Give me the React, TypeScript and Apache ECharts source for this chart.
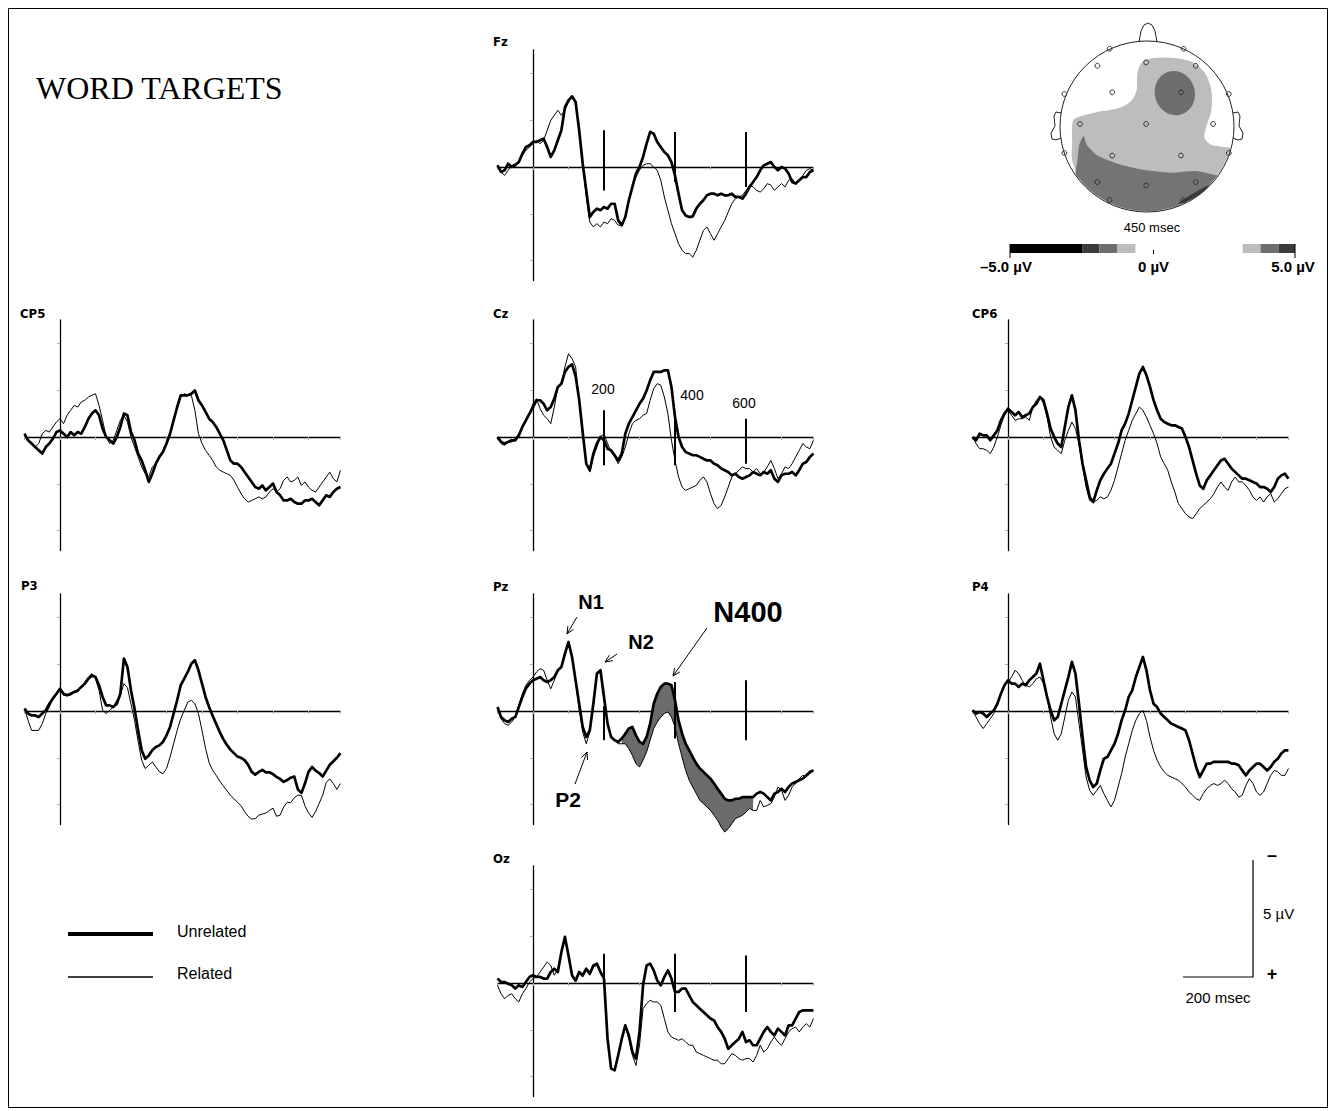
import React, { useEffect, useRef } from "react";
import * as echarts from "echarts";

// ---------------- DATA (µV, negative plotted up; samples every 10 ms from -100 ms) ----------------
const T_START = -100;
const T_STEP = 10;

const FZ_UNRELATED = [
  -0.07, 0.21, 0.14, -0.14, 0, -0.07, -0.21, -0.57, -0.85, -0.93,
  -1.07, -1.07, -1.14, -1.21, -0.85, -0.43, -0.71, -1.14, -1.57, -2.56,
  -2.85, -3.02, -2.78, -1.57, -0.14, 1.0, 2.14, 1.92, 1.78, 1.85,
  1.71, 1.78, 1.57, 1.57, 2.28, 2.49, 2.14, 1.42, 0.85, 0.28,
  0, -0.43, -1.0, -1.5, -1.42, -1.07, -0.85, -0.64, -0.5, -0.21,
  0.36, 1.14, 1.85, 2.07, 2.14, 2.11, 1.78, 1.57, 1.42, 1.21,
  1.14, 1.14, 1.21, 1.14, 1.21, 1.21, 1.14, 1.28, 1.28, 1.35,
  1.14, 0.85, 0.64, 0.43, 0.14, -0.07, -0.14, -0.21, 0, 0.14,
  0, 0.07, 0.28, 0.64, 0.71, 0.57, 0.43, 0.43, 0.21, 0.14,
];
const FZ_RELATED = [
  -0.07, 0.21, 0.36, 0.14, -0.07, -0.14, -0.21, -0.5, -0.71, -0.85,
  -1.0, -1.14, -1.0, -1.14, -1.57, -1.99, -2.21, -2.42, -2.21, -2.42,
  -2.78, -2.99, -2.78, -1.57, -0.14, 1.28, 2.35, 2.56, 2.42, 2.56,
  2.35, 2.42, 2.21, 2.28, 2.49, 2.49, 2.14, 1.42, 0.85, 0.43,
  0.14, -0.07, -0.14, -0.14, 0, 0.14, 0.57, 1.28, 1.85, 2.42,
  2.85, 3.28, 3.56, 3.7, 3.7, 3.85, 3.56, 3.13, 2.71, 2.56,
  2.85, 3.13, 2.85, 2.56, 2.28, 1.92, 1.57, 1.35, 1.28, 1.21,
  1.0, 0.78, 0.85, 1.0, 1.07, 0.93, 0.71, 0.78, 1.0, 0.85,
  0.71, 0.85, 0.57, 0.5, 0.71, 0.57, 0.36, 0.14, 0.07, 0.14,
];

const CP5_UNRELATED = [
  -0.14, 0.14, 0.28, 0.43, 0.57, 0.71, 0.43, 0.28, 0.07, -0.21,
  -0.28, -0.14, 0, -0.21, -0.07, -0.21, -0.14, -0.43, -0.78, -1.0,
  -1.14, -0.93, -0.36, 0, 0.14, 0.28, 0, -0.43, -1.0, -0.93,
  -0.21, 0.14, 0.71, 1.0, 1.42, 1.92, 1.57, 1.14, 0.85, 0.64,
  0.28, -0.14, -0.71, -1.28, -1.78, -1.78, -1.78, -1.85, -1.99, -1.57,
  -1.35, -1.07, -0.78, -0.64, -0.43, -0.14, 0.14, 0.57, 1.0, 1.14,
  1.14, 1.28, 1.5, 1.71, 1.92, 2.14, 2.21, 2.07, 2.28, 2.14,
  1.99, 2.35, 2.49, 2.71, 2.71, 2.64, 2.78, 2.85, 2.85, 2.71,
  2.71, 2.64, 2.78, 2.92, 2.71, 2.49, 2.56, 2.35, 2.21, 2.14,
];
const CP5_RELATED = [
  -0.14, 0.14, 0.28, 0.43, 0.28, -0.14, -0.28, -0.21, -0.43, -0.64,
  -0.78, -0.57, -0.93, -1.14, -1.35, -1.28, -1.5, -1.57, -1.71, -1.78,
  -1.85, -1.35, -0.71, 0, 0.28, 0.14, -0.28, -0.71, -0.93, -0.64,
  0, 0.43, 0.85, 1.28, 1.57, 1.71, 1.28, 1.14, 0.85, 0.57,
  0.28, -0.14, -0.78, -1.28, -1.71, -1.85, -1.78, -1.78, -1.14, -0.14,
  0.28, 0.57, 0.78, 1.0, 1.28, 1.42, 1.5, 1.57, 1.64, 1.85,
  2.14, 2.42, 2.64, 2.78, 2.71, 2.64, 2.56, 2.64, 2.56, 2.35,
  2.21, 2.35, 2.21, 1.85, 1.71, 1.92, 1.85, 1.71, 2.07, 1.92,
  2.14, 2.28, 2.35, 2.14, 1.92, 1.71, 1.5, 1.78, 1.92, 1.42,
];

const CZ_UNRELATED = [
  0, 0.21, 0.28, 0.21, 0.14, 0.14, -0.07, -0.43, -0.71, -1.0,
  -1.28, -1.57, -1.57, -1.42, -1.14, -1.28, -1.64, -2.14, -2.28, -2.78,
  -3.0, -3.1, -2.6, -1.6, -0.2, 1.14, 1.42, 0.71, 0.28, 0,
  0.14, 0.5, 0.57, 0.78, 1.0, 0.71, -0.14, -0.57, -0.85, -1.14,
  -1.42, -1.64, -1.99, -2.42, -2.78, -2.78, -2.78, -2.85, -2.85, -2.14,
  -0.85, 0, 0.43, 0.64, 0.71, 0.78, 0.78, 0.85, 0.93, 1.0,
  1.0, 1.14, 1.21, 1.35, 1.42, 1.5, 1.64, 1.57, 1.71, 1.78,
  1.71, 1.64, 1.5, 1.57, 1.64, 1.5, 1.57, 1.42, 1.78, 1.92,
  1.64, 1.57, 1.57, 1.5, 1.64, 1.42, 1.14, 1.07, 0.85, 0.71,
];
const CZ_RELATED = [
  0, 0.28, 0.36, 0.21, 0.21, 0.07, -0.14, -0.43, -0.71, -1.0,
  -1.42, -1.64, -1.21, -0.93, -0.78, -0.57, -1.28, -2.14, -2.28, -3.0,
  -3.56, -3.35, -3.0, -1.57, -0.2, 1.14, 1.5, 0.85, 0.43, 0,
  -0.14, 0.28, 0.64, 0.85, 1.14, 0.85, 0.43, -0.14, -0.57, -0.71,
  -0.78, -0.93, -1.0, -1.57, -2.07, -2.28, -2.21, -1.71, -1.0, 0.14,
  1.0, 1.71, 2.14, 2.28, 2.21, 2.14, 2.07, 1.85, 1.71, 1.92,
  2.42, 2.85, 3.06, 2.92, 2.56, 2.14, 1.71, 1.57, 1.42, 1.28,
  1.35, 1.35, 1.5, 1.35, 1.57, 1.5, 1.28, 1.0, 1.35, 1.78,
  1.57, 1.28, 1.35, 1.14, 0.85, 0.57, 0.28, 0.43, 0.5, 0.14,
];

const CP6_UNRELATED = [
  0, 0.14, -0.14, -0.07, -0.07, 0.14, -0.07, -0.28, -0.71, -1.0,
  -1.21, -1.07, -0.93, -1.07, -0.85, -0.93, -1.0, -1.28, -1.42, -1.71,
  -1.57, -1.0, -0.36, 0, 0.28, 0.43, -0.43, -1.28, -1.78, -1.14,
  0.14, 1.14, 1.85, 2.56, 2.78, 2.28, 1.85, 1.57, 1.35, 1.14,
  0.71, 0.28, -0.28, -0.57, -1.0, -1.57, -2.14, -2.71, -2.99, -2.64,
  -2.14, -1.57, -1.14, -0.78, -0.64, -0.57, -0.5, -0.5, -0.43, -0.36,
  0, 0.43, 1.0, 1.57, 2.07, 2.21, 1.85, 1.64, 1.42, 1.21,
  1.0, 0.93, 1.14, 1.35, 1.5, 1.64, 1.78, 1.78, 1.85, 1.92,
  1.99, 2.14, 2.14, 2.21, 2.35, 2.14, 1.78, 1.64, 1.57, 1.78,
];
const CP6_RELATED = [
  0, 0.28, 0.5, 0.5, 0.57, 0.71, 0.43, 0, -0.5, -0.93,
  -1.14, -0.93, -0.71, -0.78, -0.78, -0.85, -0.71, -1.28, -1.57, -1.71,
  -1.42, -0.85, 0, 0.43, 0.57, 0.71, 0.14, -0.28, -0.64, -0.36,
  0.28, 1.28, 2.14, 2.71, 2.78, 2.71, 2.56, 2.64, 2.56, 2.28,
  1.85, 1.28, 0.71, 0.14, -0.28, -0.71, -1.0, -1.28, -1.14, -0.85,
  -0.5, -0.14, 0.28, 0.85, 1.14, 1.42, 1.92, 2.35, 2.85, 3.06,
  3.28, 3.42, 3.49, 3.28, 3.06, 2.92, 2.78, 2.64, 2.42, 2.14,
  1.92, 2.14, 2.28, 1.92, 1.71, 1.92, 1.92, 2.07, 2.28, 2.56,
  2.71, 2.56, 2.78, 2.56, 2.42, 2.78, 2.64, 2.42, 2.21, 2.14,
];

const P3_UNRELATED = [
  -0.1, 0.11, 0.19, 0.19, 0.26, 0.11, -0.03, -0.31, -0.53, -0.74,
  -0.95, -0.74, -0.67, -0.74, -0.81, -0.88, -1.03, -1.17, -1.38, -1.52,
  -1.45, -1.1, -0.6, -0.24, -0.24, -0.17, -0.31, -0.74, -2.24, -1.88,
  -0.88, -0.1, 0.83, 1.68, 2.04, 1.9, 1.68, 1.54, 1.47, 1.32,
  1.04, 0.68, 0.11, -0.46, -1.1, -1.38, -1.67, -2.02, -2.17, -1.74,
  -1.17, -0.6, -0.17, 0.2, 0.55, 0.9, 1.2, 1.45, 1.65, 1.8,
  1.95, 2.0, 2.1, 2.3, 2.6, 2.72, 2.6, 2.52, 2.62, 2.62,
  2.7, 2.82, 2.9, 3.03, 2.95, 2.85, 2.8, 3.35, 3.5, 3.1,
  2.6, 2.39, 2.55, 2.65, 2.8, 2.55, 2.3, 2.15, 2.0, 1.8,
];
const P3_RELATED = [
  -0.1, 0.4, 0.83, 0.83, 0.83, 0.54, 0.11, -0.17, -0.53, -0.74,
  -0.95, -0.67, -0.67, -0.67, -0.81, -0.81, -1.03, -1.24, -1.45, -1.6,
  -1.38, -0.88, -0.03, 0.11, -0.03, -0.17, -0.46, -0.67, -1.17, -1.0,
  -0.3, 0.4, 1.3, 2.1, 2.46, 2.32, 2.18, 2.39, 2.6, 2.68,
  2.46, 1.97, 1.4, 0.83, 0.33, -0.03, -0.38, -0.46, -0.31, 0.11,
  0.83, 1.6, 2.2, 2.54, 2.75, 3.0, 3.2, 3.4, 3.6, 3.75,
  3.9, 4.05, 4.3, 4.5, 4.62, 4.6, 4.45, 4.4, 4.36, 4.25,
  4.15, 4.5, 4.45, 4.1, 3.9, 3.92, 3.7, 3.6, 3.6, 4.05,
  4.35, 4.55, 4.3, 3.95, 3.6, 3.05, 2.9, 3.1, 3.35, 3.1,
];

const PZ_UNRELATED = [
  -0.17, 0.26, 0.4, 0.47, 0.33, 0.26, -0.17, -0.6, -0.96, -1.17,
  -1.31, -1.38, -1.45, -1.31, -1.24, -1.31, -1.45, -1.74, -1.88, -2.45,
  -2.95, -2.31, -1.31, -0.31, 0.68, 1.11, 0.83, -0.31, -1.6, -1.74,
  -0.6, 0.54, 1.11, 1.25, 1.32, 1.18, 0.97, 0.75, 0.68, 1.04,
  1.32, 1.4, 1.11, 0.54, -0.31, -0.74, -1.03, -1.17, -1.17, -1.1,
  -0.46, 0.4, 0.97, 1.4, 1.68, 1.97, 2.25, 2.46, 2.6, 2.75,
  2.89, 3.1, 3.32, 3.53, 3.75, 3.82, 3.82, 3.75, 3.75, 3.68,
  3.68, 3.68, 3.68, 3.53, 3.46, 3.53, 3.68, 3.82, 3.53, 3.46,
  3.32, 3.46, 3.25, 3.1, 3.03, 2.96, 2.89, 2.75, 2.6, 2.54,
];
const PZ_RELATED = [
  -0.17, 0.33, 0.54, 0.61, 0.47, 0.26, -0.24, -0.74, -1.1, -1.31,
  -1.45, -1.67, -1.81, -1.74, -1.31, -0.95, -1.31, -1.74, -1.95, -2.45,
  -2.88, -2.3, -1.2, -0.1, 0.9, 1.4, 0.9, -0.2, -1.55, -1.7,
  -0.46, 0.54, 1.11, 1.25, 1.4, 1.4, 1.4, 1.61, 1.9, 2.25,
  2.39, 2.1, 1.75, 1.25, 0.75, 0.47, 0.26, 0.11, 0.04, 0.26,
  0.68, 1.4, 1.97, 2.54, 2.96, 3.25, 3.53, 3.82, 3.96, 4.1,
  4.25, 4.46, 4.67, 4.96, 5.17, 5.03, 4.82, 4.6, 4.53, 4.46,
  4.32, 4.17, 4.25, 4.25, 3.82, 4.1, 4.03, 3.96, 3.68, 3.25,
  3.39, 3.82, 3.6, 3.25, 3.1, 2.89, 2.75, 2.82, 2.68, 2.54,
];
// N400 shading window (ms)
const PZ_SHADE_FROM = 250;
const PZ_SHADE_TO = 620;

const P4_UNRELATED = [
  -0.03, 0.11, 0.04, 0.11, 0.26, 0.11, -0.03, -0.31, -0.74, -1.1,
  -1.31, -1.17, -1.17, -1.03, -1.17, -1.1, -1.31, -1.45, -1.6, -2.02,
  -1.31, -0.6, -0.03, 0.4, 0.26, -0.31, -0.88, -1.45, -2.1, -1.6,
  -0.31, 1.11, 2.39, 2.96, 3.25, 3.1, 2.54, 2.04, 1.97, 1.68,
  1.4, 0.97, 0.4, -0.03, -0.6, -0.88, -1.45, -1.88, -2.31, -1.74,
  -0.88, -0.31, -0.17, 0.11, 0.26, 0.4, 0.54, 0.61, 0.68, 0.75,
  0.83, 1.25, 1.82, 2.39, 2.82, 2.54, 2.25, 2.25, 2.17, 2.17,
  2.17, 2.17, 2.17, 2.25, 2.25, 2.32, 2.54, 2.75, 2.54, 2.39,
  2.25, 2.25, 2.39, 2.54, 2.39, 2.17, 2.04, 1.82, 1.68, 1.68,
];
const P4_RELATED = [
  -0.03, 0.26, 0.54, 0.75, 0.54, 0.33, 0.11, -0.31, -0.74, -1.1,
  -1.24, -1.45, -1.74, -1.6, -1.31, -1.1, -1.03, -1.17, -1.38, -1.45,
  -1.17, -0.6, 0.26, 0.97, 1.25, 0.97, 0.26, -0.46, -0.81, -0.6,
  0.54, 1.68, 2.82, 3.39, 3.6, 3.39, 3.18, 3.53, 3.82, 4.1,
  3.82, 3.25, 2.68, 1.97, 1.4, 0.83, 0.4, 0.11, -0.03, 0.4,
  1.11, 1.68, 2.1, 2.39, 2.6, 2.75, 2.82, 2.89, 2.96, 3.1,
  3.25, 3.46, 3.6, 3.75, 3.82, 3.53, 3.32, 3.18, 3.1, 3.18,
  3.1, 2.96, 3.1, 3.32, 3.46, 3.68, 3.6, 3.18, 2.89, 3.1,
  3.46, 3.6, 3.46, 3.1, 2.75, 2.54, 2.6, 2.75, 2.75, 2.46,
];

const OZ_UNRELATED = [
  -0.19, -0.04, -0.04, 0.03, 0.1, 0.24, 0.1, 0.17, -0.04, -0.26,
  -0.33, -0.26, -0.26, -0.19, -0.19, -0.47, -0.61, -0.47, -1.32, -1.97,
  -1.18, -0.33, -0.11, -0.47, -0.33, -0.61, -0.4, -0.75, -0.83, -0.47,
  -0.19, 2.39, 3.66, 3.73, 3.09, 2.39, 1.81, 2.24, 2.95, 3.23,
  2.09, 0.1, -0.75, -0.83, -0.54, -0.11, 0.1, -0.26, -0.54, -0.19,
  0.38, 0.38, 0.24, 0.24, 0.53, 0.81, 0.95, 1.1, 1.24, 1.38,
  1.52, 1.6, 1.88, 2.09, 2.38, 2.81, 2.66, 2.52, 2.38, 2.09,
  2.52, 2.45, 2.66, 2.66, 2.38, 2.09, 1.88, 2.09, 2.24, 1.95,
  2.09, 2.24, 1.81, 1.81, 1.52, 1.24, 1.17, 1.17, 1.17, 1.17,
];
const OZ_RELATED = [
  0.1, 0.46, 0.67, 0.53, 0.46, 0.67, 0.81, 0.46, 0.24, -0.04,
  -0.19, -0.26, -0.47, -0.68, -0.9, -0.75, -0.33, -0.61, -1.32, -1.88,
  -1.18, -0.26, -0.04, -0.4, -0.26, -0.54, -0.33, -0.68, -0.75, -0.47,
  -0.19, 2.39, 3.66, 3.73, 3.09, 2.39, 1.88, 2.39, 3.09, 3.52,
  2.66, 1.1, 0.88, 0.74, 0.81, 0.81, 0.95, 1.52, 2.09, 2.31,
  2.38, 2.45, 2.38, 2.52, 2.66, 2.66, 2.95, 3.02, 3.09, 3.16,
  3.23, 3.3, 3.3, 3.45, 3.45, 3.23, 3.02, 3.09, 3.23, 3.3,
  3.23, 3.23, 3.38, 3.09, 2.66, 2.95, 2.81, 2.52, 2.31, 2.52,
  2.66, 2.38, 2.09, 1.95, 1.88, 2.09, 1.88, 1.74, 1.88, 1.52,
];

// latency marker bars: [time ms, top µV, bottom µV]
const FZ_MARKERS = [[200, -1.57, 1.0], [400, -1.5, 0.64], [600, -1.5, 0.85]];
const CZ_MARKERS = [[200, -1.14, 1.21], [400, -0.9, 1.21], [600, -0.78, 1.14]];
const PZ_MARKERS = [[200, -0.2, 1.25], [400, -1.24, 1.18], [600, -1.31, 1.25]];
const OZ_MARKERS = [[200, -1.25, 0.05], [400, -1.25, 1.24], [600, -1.18, 1.24]];
const CZ_MARKER_LABELS = ["200", "400", "600"];

// topographic map at 450 ms (normalised head coordinates, y down)
const TOPO_LIGHT_EDGE = [
  [-0.85, -0.07], [-0.76, -0.12], [-0.57, -0.17], [-0.34, -0.21], [-0.19, -0.29], [-0.12, -0.42],
  [-0.11, -0.62], [-0.06, -0.75], [0.08, -0.8], [0.31, -0.8], [0.53, -0.75], [0.67, -0.62],
  [0.74, -0.42], [0.74, -0.19], [0.68, 0.01], [0.66, 0.13], [0.73, 0.21], [0.88, 0.24],
];
const TOPO_MEDIUM_EDGE = [
  [-0.73, 0.11], [-0.69, 0.22], [-0.57, 0.34], [-0.38, 0.42], [-0.08, 0.5], [0.27, 0.54],
  [0.57, 0.52], [0.8, 0.57],
];
const TOPO_DARK_SPOT = [[0.36, 0.9], [0.52, 0.79], [0.68, 0.7], [0.72, 0.68], [0.62, 0.78], [0.45, 0.88]];
const TOPO_BLOB = { u: 0.32, v: -0.39, ru: 0.23, rv: 0.26 };
const ELECTRODES = [
  [-0.43, -0.91], [0.42, -0.91], [-0.57, -0.71], [-0.01, -0.75], [0.56, -0.71],
  [-0.95, -0.38], [-0.4, -0.4], [0.39, -0.4], [0.94, -0.38],
  [-0.77, -0.03], [-0.01, -0.03], [0.76, -0.03],
  [-0.95, 0.31], [-0.4, 0.34], [0.39, 0.34], [0.94, 0.31],
  [-0.57, 0.65], [-0.01, 0.69], [0.56, 0.65], [-0.43, 0.86], [0.42, 0.86],
];
// colour scale bins: [from µV, to µV, colour]
const COLORBAR_BINS: [number, number, string][] = [
  [-5, -2.47, "#000000"], [-2.47, -1.86, "#3c3c3c"], [-1.86, -1.23, "#6e6e6e"], [-1.23, -0.6, "#bdbdbd"],
  [3.16, 3.79, "#bdbdbd"], [3.79, 4.42, "#6e6e6e"], [4.42, 5, "#3c3c3c"],
];
const COLORBAR_LABELS: [number, string][] = [[-5, "–5.0 µV"], [0, "0 µV"], [5, "5.0 µV"]];

// ---------------- LAYOUT ----------------
const PX_MS = 0.355;
const PX_UV = 23.4;
const X_MIN = -100;
const X_MAX = 790;
const Y_MIN = -5;
const Y_MAX = 4.85;

const PANELS = [
  { label: "Fz", u: FZ_UNRELATED, r: FZ_RELATED, ax: 533, zy: 167, lx: 493, ly: 41, markers: FZ_MARKERS },
  { label: "CP5", u: CP5_UNRELATED, r: CP5_RELATED, ax: 60, zy: 437, lx: 20, ly: 313, markers: null },
  { label: "Cz", u: CZ_UNRELATED, r: CZ_RELATED, ax: 533, zy: 437, lx: 493, ly: 313, markers: CZ_MARKERS },
  { label: "CP6", u: CP6_UNRELATED, r: CP6_RELATED, ax: 1008, zy: 437, lx: 972, ly: 313, markers: null },
  { label: "P3", u: P3_UNRELATED, r: P3_RELATED, ax: 60, zy: 711, lx: 21, ly: 585, markers: null },
  { label: "Pz", u: PZ_UNRELATED, r: PZ_RELATED, ax: 533, zy: 711, lx: 493, ly: 586, markers: PZ_MARKERS },
  { label: "P4", u: P4_UNRELATED, r: P4_RELATED, ax: 1008, zy: 711, lx: 972, ly: 586, markers: null },
  { label: "Oz", u: OZ_UNRELATED, r: OZ_RELATED, ax: 533, zy: 983, lx: 493, ly: 858, markers: OZ_MARKERS },
];

const HEAD = { cx: 1147, cy: 126.5, rx: 87, ry: 85.5 };
const CB = { x0: 1010, x1: 1295, y: 244, h: 9 };

const SANS = '"Liberation Sans", Arial, sans-serif';
const NARROW = '"Liberation Sans Narrow", "DejaVu Sans Condensed", "Liberation Sans", sans-serif';

function txt(x: number, y: number, text: string, font: string, align = "left", extra: any = {}) {
  return {
    type: "text",
    x,
    y,
    silent: true,
    style: {
      text,
      font,
      fill: "#000",
      align,
      textAlign: align,
      verticalAlign: "middle",
      textVerticalAlign: "middle",
      ...extra,
    },
  };
}

function arrow(x1: number, y1: number, x2: number, y2: number) {
  const a = Math.atan2(y2 - y1, x2 - x1);
  const L = 8;
  const w = 0.42;
  const p1 = [x2 - L * Math.cos(a - w), y2 - L * Math.sin(a - w)];
  const p2 = [x2 - L * Math.cos(a + w), y2 - L * Math.sin(a + w)];
  return [
    { type: "line", silent: true, shape: { x1, y1, x2, y2 }, style: { stroke: "#000", lineWidth: 1 } },
    { type: "polyline", silent: true, shape: { points: [p1, [x2, y2], p2] }, style: { stroke: "#000", lineWidth: 1, fill: null } },
  ];
}

const hp = (p: number[]) => [HEAD.cx + p[0] * HEAD.rx, HEAD.cy + p[1] * HEAD.ry];
const arcPts = (a0: number, a1: number, n: number) =>
  Array.from({ length: n + 1 }, (_, k) => {
    const a = ((a0 + ((a1 - a0) * k) / n) * Math.PI) / 180;
    return [Math.cos(a) * 0.99, Math.sin(a) * 0.99];
  });

function buildGraphic() {
  const g: any[] = [];
  // frame
  g.push({ type: "rect", silent: true, shape: { x: 8.5, y: 8.5, width: 1319, height: 1099 }, style: { fill: null, stroke: "#000", lineWidth: 1 } });
  // title
  g.push(txt(36, 88, "WORD TARGETS", '32px "Liberation Serif", "Times New Roman", serif'));

  // electrode labels
  PANELS.forEach((p) => g.push(txt(p.lx, p.ly, p.label, `bold 13px ${NARROW}`)));

  // Cz latency labels
  const czLabelPos = [[603, 389], [692, 395], [744, 403]];
  CZ_MARKER_LABELS.forEach((t, i) => g.push(txt(czLabelPos[i][0], czLabelPos[i][1], t, `14px ${SANS}`, "center")));

  // Pz component labels & arrows
  g.push(txt(591, 602, "N1", `bold 20px ${SANS}`, "center"));
  g.push(txt(641, 642, "N2", `bold 20px ${SANS}`, "center"));
  g.push(txt(748, 612, "N400", `bold 29px ${SANS}`, "center"));
  g.push(txt(568, 799, "P2", `bold 21px ${SANS}`, "center"));
  g.push(...arrow(577, 617, 567, 634));
  g.push(...arrow(617, 654, 605, 662));
  g.push(...arrow(707, 628, 673, 676));
  g.push(...arrow(575, 784, 587, 752));

  // legend
  g.push({ type: "line", silent: true, shape: { x1: 68, y1: 934, x2: 153, y2: 934 }, style: { stroke: "#000", lineWidth: 4 } });
  g.push(txt(177, 931, "Unrelated", `16px ${SANS}`));
  g.push({ type: "line", silent: true, shape: { x1: 68, y1: 977, x2: 153, y2: 977 }, style: { stroke: "#000", lineWidth: 1.3 } });
  g.push(txt(177, 973, "Related", `16px ${SANS}`));

  // scale bar
  g.push({ type: "polyline", silent: true, shape: { points: [[1253, 860], [1253, 977], [1183, 977]] }, style: { stroke: "#000", lineWidth: 1.2, fill: null } });
  g.push(txt(1272, 855, "–", `bold 18px ${SANS}`, "center"));
  g.push(txt(1263, 913, "5 µV", `15px ${SANS}`));
  g.push(txt(1272, 974, "+", `bold 18px ${SANS}`, "center"));
  g.push(txt(1218, 997, "200 msec", `15px ${SANS}`, "center"));

  // topographic map
  const light = [...TOPO_LIGHT_EDGE, ...arcPts(15, 140, 24), [-0.86, 0.4], [-0.86, 0.2]].map(hp);
  const medium = [...TOPO_MEDIUM_EDGE, ...arcPts(35, 146, 24), [-0.8, 0.4], [-0.78, 0.22]].map(hp);
  g.push({ type: "ellipse", silent: true, shape: { cx: HEAD.cx, cy: HEAD.cy, rx: HEAD.rx, ry: HEAD.ry }, style: { fill: "#fff" } });
  g.push({ type: "polygon", silent: true, shape: { points: light, smooth: 0.3 }, style: { fill: "#bdbdbd" } });
  g.push({ type: "polygon", silent: true, shape: { points: medium, smooth: 0.2 }, style: { fill: "#747474" } });
  g.push({
    type: "ellipse",
    silent: true,
    x: HEAD.cx + TOPO_BLOB.u * HEAD.rx,
    y: HEAD.cy + TOPO_BLOB.v * HEAD.ry,
    rotation: 0.25,
    shape: { cx: 0, cy: 0, rx: TOPO_BLOB.ru * HEAD.rx, ry: TOPO_BLOB.rv * HEAD.ry },
    style: { fill: "#6e6e6e" },
  });
  g.push({ type: "polygon", silent: true, shape: { points: TOPO_DARK_SPOT.map(hp), smooth: 0.4 }, style: { fill: "#3a3a3a" } });
  g.push({ type: "ellipse", silent: true, shape: { cx: HEAD.cx, cy: HEAD.cy, rx: HEAD.rx, ry: HEAD.ry }, style: { fill: null, stroke: "#222", lineWidth: 1 } });
  // nose and ears
  g.push({ type: "polyline", silent: true, shape: { points: [[1139, 42], [1141, 31], [1144, 25], [1148, 23], [1152, 25], [1155, 31], [1157, 42]] }, style: { stroke: "#222", lineWidth: 1, fill: null } });
  const earL = [[1061, 113], [1056, 112], [1054, 116], [1055, 126], [1051, 133], [1052, 139], [1056, 140], [1061, 138]];
  g.push({ type: "polyline", silent: true, shape: { points: earL }, style: { stroke: "#222", lineWidth: 1, fill: null } });
  g.push({ type: "polyline", silent: true, shape: { points: earL.map(([x, y]) => [2 * HEAD.cx - x, y]) }, style: { stroke: "#222", lineWidth: 1, fill: null } });
  ELECTRODES.forEach((e) => {
    const [x, y] = hp(e);
    g.push({ type: "circle", silent: true, shape: { cx: x, cy: y, r: 2.4 }, style: { fill: null, stroke: "#333", lineWidth: 1 } });
  });
  g.push(txt(1152, 227, "450 msec", `13px ${SANS}`, "center"));

  // colour bar
  const cbx = (v: number) => CB.x0 + ((v + 5) / 10) * (CB.x1 - CB.x0);
  COLORBAR_BINS.forEach(([a, b, c]) => {
    g.push({ type: "rect", silent: true, shape: { x: cbx(a), y: CB.y, width: cbx(b) - cbx(a), height: CB.h }, style: { fill: c } });
  });
  g.push({ type: "line", silent: true, shape: { x1: cbx(5), y1: CB.y, x2: cbx(5), y2: CB.y + 14 }, style: { stroke: "#000", lineWidth: 1 } });
  g.push({ type: "line", silent: true, shape: { x1: cbx(-5), y1: CB.y, x2: cbx(-5), y2: CB.y + 14 }, style: { stroke: "#000", lineWidth: 1 } });
  g.push({ type: "line", silent: true, shape: { x1: cbx(0) + 1, y1: CB.y + 6, x2: cbx(0) + 1, y2: CB.y + 10 }, style: { stroke: "#000", lineWidth: 1 } });
  COLORBAR_LABELS.forEach(([v, t]) => g.push(txt(cbx(v) + (v === 0 ? 1 : v > 0 ? -2 : -4), 266, t, `bold 15px ${SANS}`, "center")));
  return g;
}

function buildOption() {
  const times = FZ_UNRELATED.map((_, i) => T_START + i * T_STEP);
  const grid: any[] = [];
  const xAxis: any[] = [];
  const yAxis: any[] = [];
  const series: any[] = [];

  PANELS.forEach((p, i) => {
    grid.push({
      left: p.ax + X_MIN * PX_MS,
      top: p.zy + Y_MIN * PX_UV,
      width: (X_MAX - X_MIN) * PX_MS,
      height: (Y_MAX - Y_MIN) * PX_UV,
      containLabel: false,
    });
    xAxis.push({
      gridIndex: i,
      type: "value",
      min: X_MIN,
      max: X_MAX,
      interval: 100,
      axisLine: { show: true, onZero: true, lineStyle: { color: "#000", width: 1.3 } },
      axisTick: { show: true, length: 3, lineStyle: { color: "#aaa", width: 1 } },
      axisLabel: { show: false },
      splitLine: { show: false },
    });
    yAxis.push({
      gridIndex: i,
      type: "value",
      inverse: true,
      min: Y_MIN,
      max: Y_MAX,
      axisLine: { show: true, onZero: true, lineStyle: { color: "#000", width: 1.3 } },
      axisTick: { show: true, length: 3, customValues: [-4, -2, 2, 4], lineStyle: { color: "#aaa", width: 1 } },
      axisLabel: { show: false },
      splitLine: { show: false },
    });

    const thick: any = {
      type: "line",
      name: "Unrelated",
      xAxisIndex: i,
      yAxisIndex: i,
      data: times.map((t, k) => [t, p.u[k]]),
      symbol: "none",
      showSymbol: false,
      clip: false,
      silent: true,
      z: 5,
      lineStyle: { color: "#000", width: 2.7, join: "round" },
    };
    if (p.markers) {
      thick.markLine = {
        silent: true,
        symbol: ["none", "none"],
        label: { show: false },
        lineStyle: { color: "#000", width: 2, type: "solid" },
        emphasis: { disabled: true },
        data: p.markers.map(([t, a, b]) => [{ coord: [t, a] }, { coord: [t, b] }]),
      };
    }
    series.push(thick);
    series.push({
      type: "line",
      name: "Related",
      xAxisIndex: i,
      yAxisIndex: i,
      data: times.map((t, k) => [t, p.r[k]]),
      symbol: "none",
      showSymbol: false,
      clip: false,
      silent: true,
      z: 4,
      lineStyle: { color: "#000", width: 1, join: "round" },
    });

    if (p.label === "Pz") {
      const inWin = (t: number) => t >= PZ_SHADE_FROM && t <= PZ_SHADE_TO;
      const uArr = p.u;
      const rArr = p.r;
      series.push({
        type: "custom",
        name: "N400 effect",
        xAxisIndex: i,
        yAxisIndex: i,
        data: [[PZ_SHADE_FROM, 0]],
        clip: false,
        silent: true,
        z: 2,
        renderItem: (_params: any, api: any) => {
          const pts: number[][] = [];
          times.forEach((t, k) => {
            if (inWin(t)) pts.push(api.coord([t, uArr[k]]));
          });
          for (let k = times.length - 1; k >= 0; k--) {
            if (inWin(times[k])) pts.push(api.coord([times[k], rArr[k]]));
          }
          return { type: "polygon", shape: { points: pts }, style: { fill: "#6b6b6b" } };
        },
      });
    }
  });

  return {
    animation: false,
    backgroundColor: "#fff",
    grid,
    xAxis,
    yAxis,
    series,
    graphic: { elements: buildGraphic() },
  };
}

export default function App() {
  const ref = useRef<HTMLDivElement>(null);
  useEffect(() => {
    document.body.style.margin = "0";
    if (!ref.current) return;
    const chart = echarts.init(ref.current, undefined, { renderer: "svg" });
    chart.setOption(buildOption() as any);
    return () => chart.dispose();
  }, []);
  return <div ref={ref} style={{ width: 1329, height: 1111, background: "#fff" }} />;
}
